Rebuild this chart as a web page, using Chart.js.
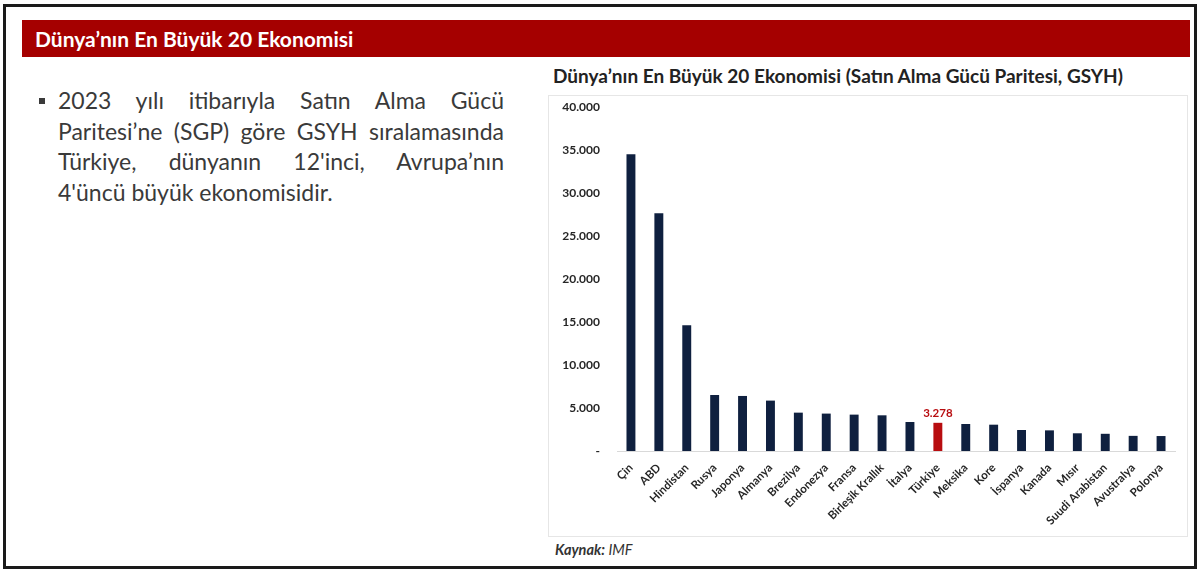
<!DOCTYPE html>
<html lang="tr">
<head>
<meta charset="utf-8">
<script src="https://cdn.jsdelivr.net/npm/chart.js@4"></script>
<style>
  html, body { margin: 0; padding: 0; background: #fff; }
  body { width: 1200px; height: 570px; position: relative; overflow: hidden; font-family: Lato, "Noto Sans", sans-serif; }
  .frame { position: absolute; left: 3px; top: 4px; width: 1188px; height: 559px; border: 3px solid #1a1a1a; }
  .header { position: absolute; left: 22px; top: 20px; width: 1168px; height: 37px; background: #a50000; color: #fff;
            font-weight: bold; font-size: 21px; line-height: 37px; padding-left: 13px; box-sizing: border-box; }
  .bullet { position: absolute; left: 38px; top: 85px; width: 466px; font-size: 23px; line-height: 30.5px; color: #3a3a3a;
            padding-left: 20px; box-sizing: border-box; }
  .bullet div { white-space: nowrap; text-align: justify; text-align-last: justify; }
  .bullet div.last { text-align-last: left; }
  .bullet::before { content: ""; position: absolute; left: 1px; top: 13px; width: 6px; height: 6px; background: #3a3a3a; }
  .ctitle { position: absolute; left: 553px; top: 64px; font-size: 19px; font-weight: bold; color: #222; white-space: nowrap; }
  .panel { position: absolute; left: 548px; top: 95px; width: 640px; height: 442px; border: 1px solid #e6e6e6; box-sizing: border-box; }
  .source { position: absolute; left: 555px; top: 541px; font-size: 14.5px; font-style: italic; color: #333; }
</style>
</head>
<body>
<div class="frame"></div>
<div class="header">Dünya’nın En Büyük 20 Ekonomisi</div>
<div class="bullet">
  <div>2023 yılı itibarıyla Satın Alma Gücü</div>
  <div>Paritesi’ne (SGP) göre GSYH sıralamasında</div>
  <div>Türkiye, dünyanın 12'inci, Avrupa’nın</div>
  <div class="last">4'üncü büyük ekonomisidir.</div>
</div>
<div class="ctitle">Dünya’nın En Büyük 20 Ekonomisi (Satın Alma Gücü Paritesi, GSYH)</div>
<div class="panel"><canvas id="chart" width="638" height="440"></canvas></div>
<div class="source"><b>Kaynak:</b> IMF</div>
<script>
// Ülkeler ve SGP'ye göre GSYH (milyar $)
const countries = ['Çin', 'ABD', 'Hindistan', 'Rusya', 'Japonya', 'Almanya', 'Brezilya', 'Endonezya', 'Fransa',
  'Birleşik Krallık', 'İtalya', 'Türkiye', 'Meksika', 'Kore', 'İspanya', 'Kanada', 'Mısır', 'Suudi Arabistan',
  'Avustralya', 'Polonya'];
const gdpValues = [34500, 27640, 14620, 6510, 6400, 5860, 4460, 4350, 4230, 4150, 3370, 3278, 3140, 3060, 2440,
  2400, 2060, 2000, 1760, 1740];
const highlightCountry = 'Türkiye';
const yTicks = [0, 5000, 10000, 15000, 20000, 25000, 30000, 35000, 40000];

const navy = '#0f203f';
const red = '#b80d10';
const textColor = '#262626';

const fmt = v => v === 0 ? '-' : v.toLocaleString('de-DE');

// only the Türkiye bar gets a value label
const valueLabelPlugin = {
  id: 'valueLabel',
  afterDatasetsDraw(chart) {
    const ctx = chart.ctx;
    const meta = chart.getDatasetMeta(0);
    const idx = countries.indexOf(highlightCountry);
    const bar = meta.data[idx];
    ctx.save();
    ctx.fillStyle = red;
    ctx.font = 'bold 11.5px Lato, sans-serif';
    ctx.textAlign = 'center';
    ctx.textBaseline = 'bottom';
    ctx.fillText(fmt(gdpValues[idx]), bar.x, bar.y - 4);
    ctx.restore();
  }
};

new Chart(document.getElementById('chart'), {
  type: 'bar',
  data: {
    labels: countries,
    datasets: [{
      data: gdpValues,
      backgroundColor: countries.map(c => c === highlightCountry ? red : navy),
      barPercentage: 0.32,
      categoryPercentage: 1
    }]
  },
  options: {
    responsive: false,
    animation: false,
    layout: { padding: { top: 11, right: 12, left: 0, bottom: 0 } },
    plugins: { legend: { display: false }, tooltip: { enabled: false } },
    scales: {
      x: {
        grid: { display: false },
        border: { color: '#d9d9d9' },
        afterFit: axis => { axis.height = 85; },
        ticks: {
          color: textColor,
          font: { family: 'Lato', size: 11.5, weight: 'bold' },
          maxRotation: 45, minRotation: 45,
          autoSkip: false,
          padding: 2
        }
      },
      y: {
        min: 0, max: 40000,
        afterBuildTicks: axis => { axis.ticks = yTicks.map(v => ({ value: v })); },
        afterFit: axis => { axis.width = 68; axis.paddingTop = 0; axis.paddingBottom = 0; },
        grid: { display: false },
        border: { display: false },
        ticks: {
          color: textColor,
          font: { family: 'Lato', size: 12, weight: 'bold' },
          padding: 9,
          callback: v => fmt(v)
        }
      }
    }
  },
  plugins: [valueLabelPlugin]
});
</script>
</body>
</html>
